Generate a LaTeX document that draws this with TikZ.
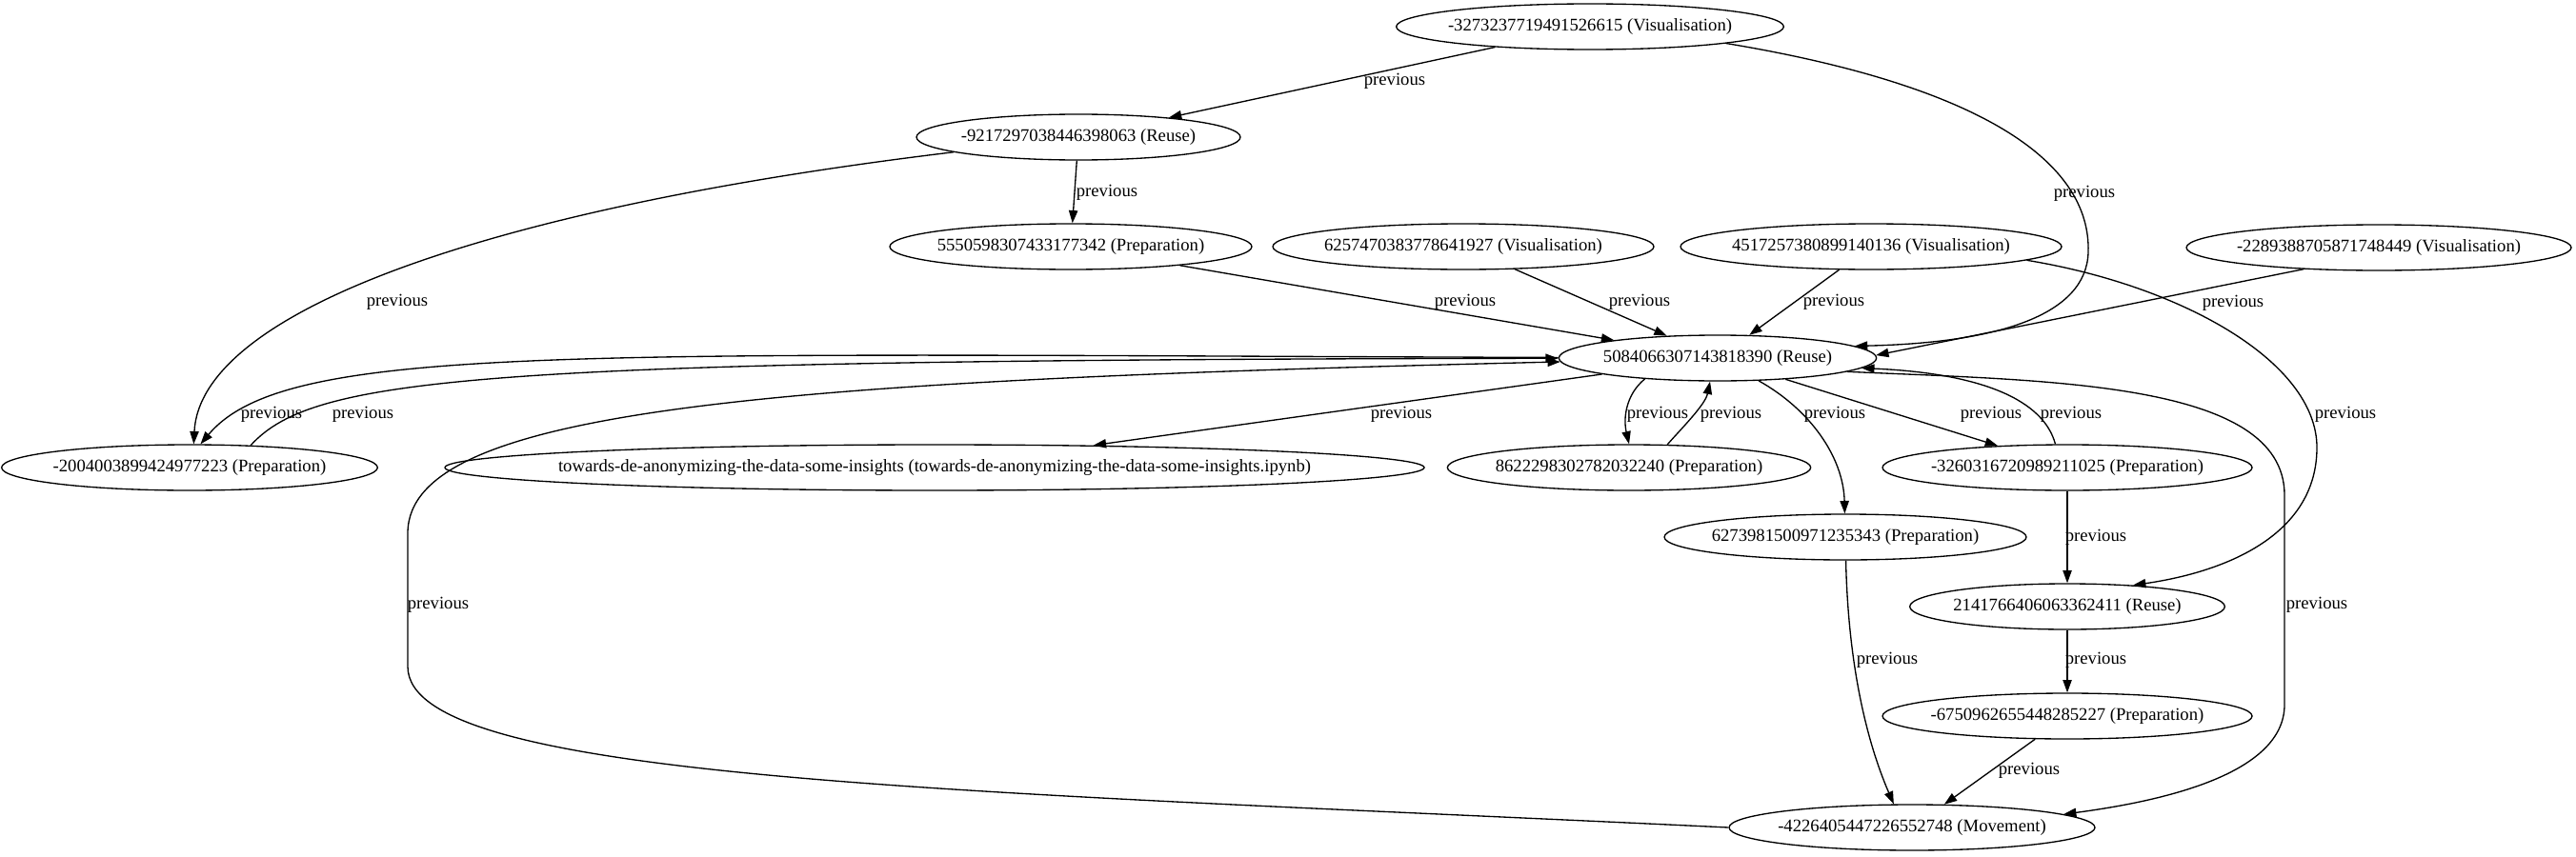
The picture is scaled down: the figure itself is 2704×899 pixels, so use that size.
\documentclass[tikz,border=0pt]{standalone}
\usepackage{fontspec}
\setmainfont{Liberation Serif}
\usetikzlibrary{arrows.meta,shapes.geometric}
\begin{document}
\begin{tikzpicture}[x=0.75pt,y=-0.75pt,
  state/.style={draw, ellipse, line width=1pt, inner sep=0pt, minimum height=36pt, font=\fontsize{14}{16}\selectfont},
  edge/.style={line width=1pt, -{Triangle[length=10pt,width=7pt]}},
  lbl/.style={font=\fontsize{14}{16}\selectfont, inner sep=0pt}]
  \fill[white] (0,0) rectangle (2704,899);
  \useasboundingbox (0,0) rectangle (2704,899);
  \foreach \n/\x/\y/\w/\t in {
    top/1669/28/305/{-3273237719491526615 (Visualisation)},
    reuseA/1132/144/255/{-9217297038446398063 (Reuse)},
    prepA/1124/259/285/{5550598307433177342 (Preparation)},
    visB/1536/259/300/{6257470383778641927 (Visualisation)},
    visC/1964/259/300/{4517257380899140136 (Visualisation)},
    visD/2497/260/303/{-2289388705871748449 (Visualisation)},
    hub/1803/376/250/{5084066307143818390 (Reuse)},
    prepB/199/491/296/{-2004003899424977223 (Preparation)},
    nb/981/491/771/{towards-de-anonymizing-the-data-some-insights (towards-de-anonymizing-the-data-some-insights.ipynb)},
    prepC/1710/491/286/{8622298302782032240 (Preparation)},
    prepD/2170/491/291/{-3260316720989211025 (Preparation)},
    prepE/1937/564/285/{6273981500971235343 (Preparation)},
    reuseB/2170/637/248/{2141766406063362411 (Reuse)},
    prepF/2170/752/291/{-6750962655448285227 (Preparation)},
    move/2007/869/288/{-4226405447226552748 (Movement)}}
    { \node[state, minimum width=\w pt] (\n) at (\x,\y) {\makebox[0pt]{\t}}; }
  % straight edges
  \foreach \a/\b/\x/\y in {top/reuseA/1464/85, reuseA/prepA/1162/202, prepA/hub/1538/317,
      visB/hub/1721/317, visC/hub/1925/317, visD.196/hub.1/2344/318, hub/nb/1471/435,
      hub/prepD/2090/435, prepD/reuseB/2200/564, reuseB/prepF/2200/693, prepF/move/2130/809}
    \draw[edge] (\a) -- (\b) node[lbl] at (\x,\y) {previous};
  % curved edges
  \draw[edge] (top.-7) .. controls (2080,90) and (2195,170) .. (2192,265)
    .. controls (2190,330) and (2100,360) .. (hub.5) node[lbl] at (2188,203) {previous};
  \draw[edge] (reuseA) .. controls (500,220) and (210,330) .. (prepB.80) node[lbl] at (417,317) {previous};
  \draw[edge] (hub) .. controls (600,372) and (300,360) .. (prepB.65) node[lbl] at (285,435) {previous};
  \draw[edge] (prepB.20) .. controls (330,395) and (500,378) .. (hub) node[lbl] at (381,435) {previous};
  \draw[edge] (move.west) .. controls (1000,830) and (428,820) .. (428,700) -- (428,560)
    .. controls (428,430) and (800,400) .. (hub) node[lbl] at (460,635) {previous};
  \draw[edge] (hub.196) .. controls (1706,415) and (1704,440) .. (prepC.north) node[lbl] at (1740,435) {previous};
  \draw[edge] (prepC.31) .. controls (1765,450) and (1790,425) .. (hub.252) node[lbl] at (1817,435) {previous};
  \draw[edge] (hub.-29) .. controls (1900,430) and (1935,480) .. (prepE) node[lbl] at (1926,435) {previous};
  \draw[edge] (prepD.117) .. controls (2145,420) and (2080,392) .. (hub.-4) node[lbl] at (2174,435) {previous};
  \draw[edge] (hub.-6) .. controls (2150,400) and (2398,400) .. (2398,520) -- (2398,740)
    .. controls (2398,810) and (2280,840) .. (move.5) node[lbl] at (2432,635) {previous};
  \draw[edge] (prepE) .. controls (1940,700) and (1960,780) .. (move.128) node[lbl] at (1981,693) {previous};
  \draw[edge] (visC.-5) .. controls (2290,300) and (2432,380) .. (2432,470)
    .. controls (2432,560) and (2340,600) .. (reuseB.18) node[lbl] at (2462,435) {previous};
\end{tikzpicture}
\end{document}
